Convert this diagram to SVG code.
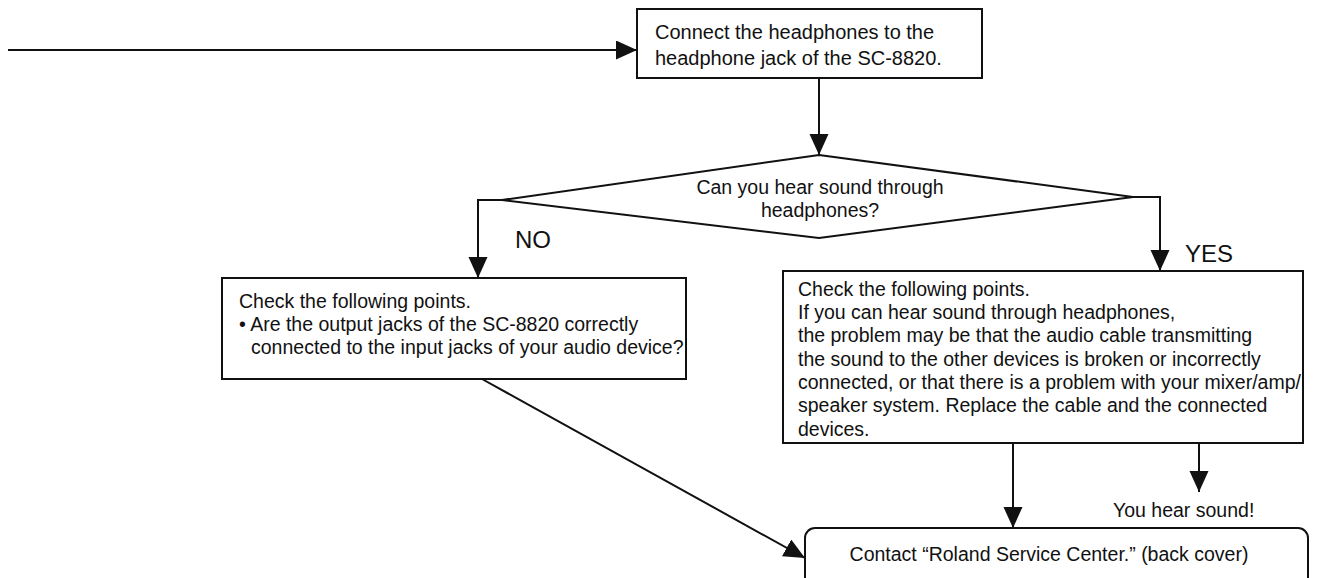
<svg xmlns="http://www.w3.org/2000/svg" width="1326" height="578" viewBox="0 0 1326 578">
<defs>
<style>
.box{fill:#fff;stroke:#111;stroke-width:2}
.ln{fill:none;stroke:#111;stroke-width:2}
.t{font-family:"Liberation Sans",Arial,Helvetica,sans-serif;font-size:19.5px;fill:#111}
.big{font-size:24px}
.mid{text-anchor:middle}
</style>
<marker id="ah" markerUnits="userSpaceOnUse" markerWidth="22" markerHeight="20" refX="21" refY="9.5" orient="auto">
<path d="M0,0 L21,9.5 L0,19 z" fill="#111"/>
</marker>
</defs>
<rect width="1326" height="578" fill="#fff"/>
<g id="connectors">
<path class="ln" d="M8,50 H637" marker-end="url(#ah)"/>
<path class="ln" d="M819,78 V155" marker-end="url(#ah)"/>
<path class="ln" d="M502,200 H478 V278" marker-end="url(#ah)"/>
<path class="ln" d="M1133,197 H1160 V271" marker-end="url(#ah)"/>
<path class="ln" d="M482,379 L805,558" marker-end="url(#ah)"/>
<path class="ln" d="M1013,443 V528" marker-end="url(#ah)"/>
<path class="ln" d="M1199,443 V492" marker-end="url(#ah)"/>
</g>
<g id="n-connect">
<rect class="box" x="637" y="9" width="345" height="69"/>
<text class="t" x="655" y="39" style="font-size:20px">Connect the headphones to the</text>
<text class="t" x="655" y="65" style="font-size:20px">headphone jack of the SC-8820.</text>
</g>
<g id="n-decision">
<polygon class="box" points="819,155 1133,197 819,238 502,200"/>
<text class="t mid" x="820" y="194">Can you hear sound through</text>
<text class="t mid" x="820" y="217">headphones?</text>
</g>
<g id="l-no"><text class="t big" x="515" y="248">NO</text></g>
<g id="l-yes"><text class="t big" x="1185" y="262">YES</text></g>
<g id="n-no">
<rect class="box" x="222" y="278" width="464" height="101"/>
<text class="t" x="239" y="308">Check the following points.</text>
<text class="t" x="239" y="331">• Are the output jacks of the SC-8820 correctly</text>
<text class="t" x="251" y="354">connected to the input jacks of your audio device?</text>
</g>
<g id="n-yes">
<rect class="box" x="783" y="271" width="520" height="172"/>
<text class="t" x="798" y="296">Check the following points.</text>
<text class="t" x="798" y="319">If you can hear sound through headphones,</text>
<text class="t" x="798" y="342">the problem may be that the audio cable transmitting</text>
<text class="t" x="798" y="366">the sound to the other devices is broken or incorrectly</text>
<text class="t" x="798" y="389">connected, or that there is a problem with your mixer/amp/</text>
<text class="t" x="798" y="412">speaker system. Replace the cable and the connected</text>
<text class="t" x="798" y="436">devices.</text>
</g>
<g id="n-sound"><text class="t" x="1113" y="517">You hear sound!</text></g>
<g id="n-contact">
<rect class="box" x="805" y="528" width="503" height="70" rx="10"/>
<text class="t mid" x="1049" y="561">Contact “Roland Service Center.” (back cover)</text>
</g>
</svg>
